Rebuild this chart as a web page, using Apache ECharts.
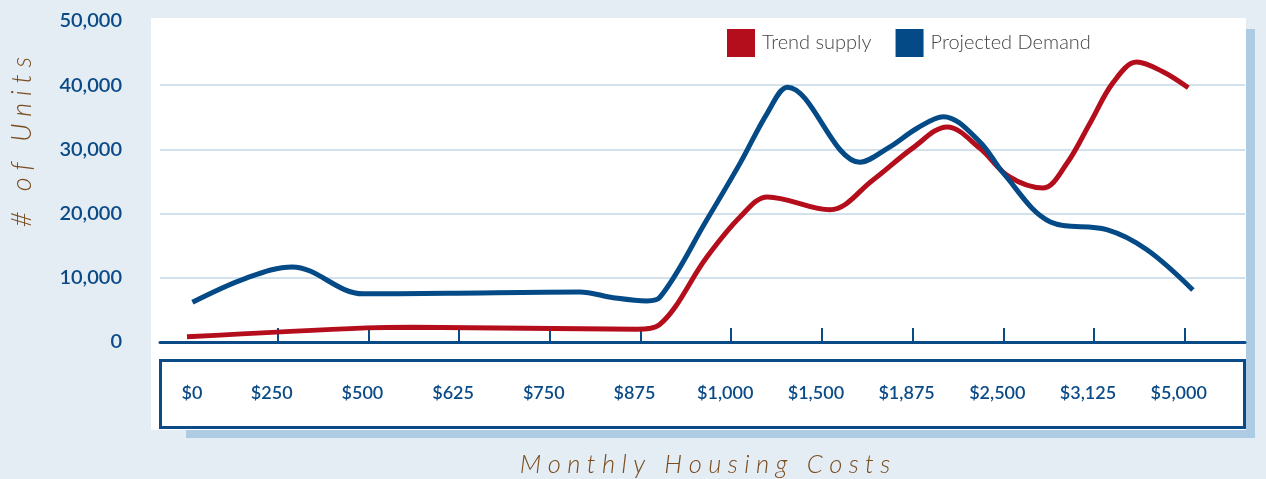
<!DOCTYPE html>
<html>
<head>
<meta charset="utf-8">
<script src="https://cdn.jsdelivr.net/npm/echarts@6/dist/echarts.min.js"></script>
<style>
  html, body { margin: 0; padding: 0; background: #e4ecf4; }
  #chart { width: 1266px; height: 479px; }
</style>
</head>
<body>
<div id="chart"></div>
<script>
// categories along the bottom ($0 = step 0 ... $5,000 = step 11)
const categories = ["$0", "$250", "$500", "$625", "$750", "$875", "$1,000", "$1,500", "$1,875", "$2,500", "$3,125", "$5,000"];
const yTicks = [0, 10000, 20000, 30000, 40000, 50000];

// Trend supply, x in category steps
const supplyX = [0, 1.98, 2.49, 4.96, 5.21, 5.73, 6.10, 6.40, 7.09, 7.56, 8.00, 8.38, 8.74, 9.06, 9.44, 9.70, 9.96, 10.21, 10.47, 10.76, 11.04];
const supplyY = [800, 2200, 2300, 2000, 2700, 13200, 19500, 22600, 20600, 25200, 30200, 33500, 30200, 25800, 24000, 27800, 34200, 40400, 43600, 42100, 39600];

// Projected Demand
const demandX = [0.06, 0.66, 1.16, 1.94, 2.87, 4.33, 4.70, 5.07, 5.21, 5.73, 6.10, 6.40, 6.62, 7.42, 7.75, 8.05, 8.34, 8.74, 9.00, 9.52, 10.14, 10.58, 11.09];
const demandY = [6200, 10000, 11700, 7500, 7600, 7800, 6900, 6400, 6900, 19000, 27900, 35700, 39700, 28000, 30400, 33300, 35100, 31200, 26300, 18700, 17500, 14400, 8100];

const navy = "#0a4a86";
const red = "#b40d1b";
const brown = "#7a4d1f";
const spaced = (s) => s.split("").join(" ");

const chart = echarts.init(document.getElementById("chart"));

const option = {
  backgroundColor: "#e4ecf4",
  animation: false,
  textStyle: { fontFamily: "Lato" },
  // white panel, its shadow, the box round the category labels, axis titles
  graphic: [
    { type: "rect", z: -10, silent: true, shape: { x: 186, y: 29, width: 1069, height: 409 }, style: { fill: "#adcbe2" } },
    { type: "rect", z: -9, silent: true, shape: { x: 151, y: 18, width: 1095, height: 412 }, style: { fill: "#fff" } },
    { type: "rect", z: 5, silent: true, shape: { x: 160.5, y: 360.5, width: 1084, height: 67 }, style: { fill: "none", stroke: navy, lineWidth: 3 } },
    {
      type: "text", x: 705, y: 465, silent: true,
      style: { text: spaced("Monthly Housing Costs"), fill: brown, font: "italic 300 25.5px Lato", align: "center", verticalAlign: "middle" }
    },
    {
      type: "text", x: 22, y: 142, rotation: Math.PI / 2, silent: true,
      style: { text: spaced("# of Units"), fill: brown, font: "italic 300 27px Lato", align: "center", verticalAlign: "middle" }
    }
  ],
  legend: {
    left: 727,
    top: 29,
    padding: 0,
    icon: "rect",
    itemWidth: 28,
    itemHeight: 28,
    itemGap: 24,
    textStyle: { color: "#444", fontSize: 20, fontWeight: 300, fontFamily: "Lato", padding: [0, 0, 0, 2] },
    data: ["Trend supply", "Projected Demand"]
  },
  grid: { left: 160, right: 21, top: 21, bottom: 137 },
  xAxis: {
    type: "value",
    min: (160 - 187) / 90.7,
    max: (1245 - 187) / 90.7,
    axisLine: { show: true, lineStyle: { color: navy, width: 3 } },
    splitLine: { show: false },
    axisTick: {
      show: true,
      inside: true,
      length: 14,
      lineStyle: { color: navy, width: 2 },
      customValues: categories.map((c, i) => i).slice(1)
    },
    axisLabel: {
      customValues: categories.map((c, i) => i),
      formatter: (v) => {
        const i = Math.round(v);
        return i === 0 ? "{first|" + categories[i] + "}" : categories[i];
      },
      color: navy,
      fontSize: 18,
      fontWeight: 600,
      margin: 42,
      padding: [0, 12, 0, 0],
      rich: {
        first: { color: navy, fontSize: 18, fontWeight: 600, padding: [0, 0, 0, 22] }
      }
    }
  },
  yAxis: {
    type: "value",
    min: yTicks[0],
    max: yTicks[yTicks.length - 1],
    interval: yTicks[1] - yTicks[0],
    axisLine: { show: false },
    axisTick: { show: false },
    splitLine: { show: true, showMaxLine: false, lineStyle: { color: "#d3e1ec", width: 2 } },
    axisLabel: {
      color: navy,
      fontSize: 20,
      fontWeight: 600,
      margin: 38,
      formatter: (v) => v.toLocaleString("en-US")
    }
  },
  series: [
    {
      name: "Trend supply",
      type: "line",
      smooth: 0.35,
      showSymbol: false,
      color: red,
      lineStyle: { color: red, width: 5 },
      data: supplyX.map((x, i) => [x, supplyY[i]])
    },
    {
      name: "Projected Demand",
      type: "line",
      smooth: 0.35,
      showSymbol: false,
      color: "#034a86",
      lineStyle: { color: "#034a86", width: 5 },
      data: demandX.map((x, i) => [x, demandY[i]])
    }
  ]
};

chart.setOption(option);
</script>
</body>
</html>
